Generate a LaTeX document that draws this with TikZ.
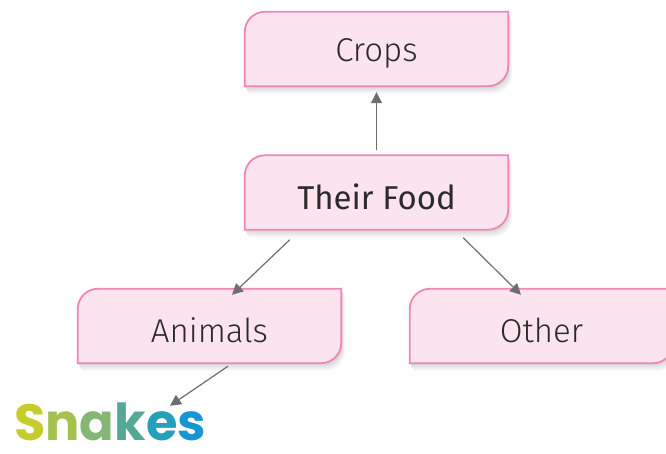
\documentclass[tikz,border=0pt]{standalone}
\usepackage{fontspec}
\setmainfont{Fira Sans}
\newfontfamily\lightfont{Fira Sans Light}
\newfontfamily\snakefont{Poppins}
\usetikzlibrary{arrows.meta}
\definecolor{boxfill}{HTML}{FCE4EF}
\definecolor{boxline}{HTML}{EF86B6}
\definecolor{txt}{HTML}{2B2B2B}
\definecolor{arrowgray}{HTML}{6E6E6E}
\definecolor{sA}{HTML}{C6CC2C}
\definecolor{sB}{HTML}{A6C24E}
\definecolor{sC}{HTML}{86B676}
\definecolor{sD}{HTML}{55A898}
\definecolor{sE}{HTML}{24A0BA}
\definecolor{sF}{HTML}{1796D6}
\tikzset{
  x=1pt,y=1pt,
  boxnode/.style={minimum width=263pt,minimum height=74pt,inner sep=0pt},
  boxtext/.style={text=txt,font=\lightfont\fontsize{33}{38}\selectfont,yshift=-4pt},
  arr/.style={draw=arrowgray,line width=1.2pt,-{Triangle[length=11pt,width=11pt]}},
}
% #1 node, #2 dx, #3 dy
\newcommand{\boxpath}[3]{%
  ([shift={(#2,#3)}]#1.south west) -- ([shift={(#2,#3-20)}]#1.north west)
  arc[start angle=180,end angle=90,radius=20pt]
  -- ([shift={(#2,#3)}]#1.north east) -- ([shift={(#2,#3+20)}]#1.south east)
  arc[start angle=0,end angle=-90,radius=20pt] -- cycle}
\newcommand{\boxshape}[1]{%
  \foreach \s/\c in {8/2,7/4,6/6,5/8,4/10,3/12,2/14} {
    \pgfmathsetmacro\dx{\s*0.5}
    \fill[black!\c] \boxpath{#1}{\dx}{-\s};
  }
  \filldraw[fill=boxfill,draw=boxline,line width=1.8pt] \boxpath{#1}{0}{0};
}
\begin{document}
\begin{tikzpicture}
\useasboundingbox (0,0) rectangle (666,453);
\path (376.5,404) node[boxnode] (crops) {}
      (376.5,260.5) node[boxnode] (food) {}
      (209.5,127) node[boxnode] (animals) {}
      (541.5,127) node[boxnode] (other) {};
\boxshape{crops}
\boxshape{food}
\boxshape{animals}
\boxshape{other}
\node[boxtext] at (crops) {Crops};
\node[boxtext,font=\fontsize{33}{38}\selectfont] at (food) {Their Food};
\node[boxtext] at (animals) {Animals};
\node[boxtext] at (other) {Other};
\node[inner sep=0pt,font=\snakefont\bfseries\fontsize{51}{58}\selectfont] (snakes) at (110,31)
  {\textcolor{sA}{S}\textcolor{sB}{n}\textcolor{sC}{a}\textcolor{sD}{k}\textcolor{sE}{e}\textcolor{sF}{s}};
\draw[arr] ([yshift=5pt]food.north) -- ([yshift=-6pt]crops.south);
\draw[arr] ([shift={(45,-10)}]food.south west) -- ([shift={(22.5,-6)}]animals.north);
\draw[arr] ([shift={(-45,-8)}]food.south east) -- ([shift={(-20.5,-6)}]other.north);
\draw[arr] ([shift={(18.5,-3)}]animals.south) -- ([shift={(60,-3)}]snakes.north);
\end{tikzpicture}
\end{document}
